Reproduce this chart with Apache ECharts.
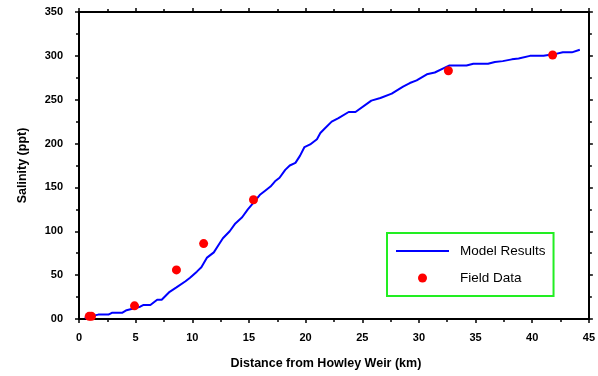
<!DOCTYPE html>
<html>
<head>
<meta charset="utf-8">
<script src="https://cdn.jsdelivr.net/npm/echarts@6/dist/echarts.min.js"></script>
<style>
html,body{margin:0;padding:0;background:#fff;}
#chart{width:598px;height:376px;}
</style>
</head>
<body>
<div id="chart"></div>
<script>
// Model results: distance (km), salinity
var modelX = [0.5,1.0,1.7,2.6,2.9,3.8,4.2,5.4,5.7,6.3,6.9,7.3,8.0,8.6,9.4,9.8,10.4,10.8,11.3,11.9,12.3,12.7,13.3,13.8,14.4,14.9,15.5,16.0,16.4,16.9,17.3,17.7,18.2,18.6,19.1,19.5,19.9,20.4,21.0,21.3,21.6,22.3,22.9,23.8,24.4,25.8,26.6,27.6,28.6,29.2,29.8,30.7,31.4,32.2,32.7,34.2,34.8,36.1,36.7,37.4,38.2,38.8,39.8,41.0,42.0,42.7,43.5,44.2];
var modelY = [1,3,5,5,7,7,10,14,16,16,22,22,31,36,43,47,54,59,70,76,84,92,100,109,116,125,134,142,146,151,157,161,170,175,178,186,196,199,205,212,216,225,229,236,236,249,252,257,265,269,272,279,281,286,289,289,291,291,293,294,296,297,300,300,302,304,304,307];
// Field data
var fieldX = [0.9,1.1,4.9,8.6,11.0,15.4,32.6,41.8];
var fieldY = [3,3,15,56,86,136,283,301];
// Tick labels
var xTickLabels = ['0','5','10','15','20','25','30','35','40','45'];
var yTickLabels = ['00','50','100','150','200','250','300','350'];

var modelData = modelX.map(function(x,i){return [x, modelY[i]];});
var fieldData = fieldX.map(function(x,i){return [x, fieldY[i]];});

var chart = echarts.init(document.getElementById('chart'));
var labelFont = {color:'#000', fontFamily:'Liberation Sans, Arial', fontWeight:'bold', fontSize:11};
var axisLine = {show:true, onZero:false, lineStyle:{color:'#000', width:2}};
var tick = {show:true, inside:false, length:4, lineStyle:{color:'#000', width:1.5}};
var minor = {show:true, splitNumber:2, length:3, lineStyle:{color:'#000', width:1.5}};
var nameFont = {color:'#000', fontFamily:'Liberation Sans, Arial', fontWeight:'bold', fontSize:12.5};

chart.setOption({
  animation:false,
  backgroundColor:'#fff',
  grid:{left:79, right:9, top:12, bottom:57, containLabel:false},
  legend:{
    orient:'vertical', left:387, top:233,
    padding:[11,8,11,8], itemGap:13, itemWidth:53, itemHeight:9,
    borderColor:'#22ee22', borderWidth:2, borderRadius:0,
    textStyle:{fontFamily:'Liberation Sans, Arial', fontSize:13.5, color:'#000', padding:[0,0,0,6]},
    data:[{name:'Model Results', itemStyle:{opacity:0}},{name:'Field Data', icon:'circle', itemStyle:{opacity:1, color:'#ff0000'}}]
  },
  xAxis:[{
    type:'value', min:0, max:45, interval:5, position:'bottom',
    name:'Distance from Howley Weir (km)', nameLocation:'middle', nameGap:38,
    nameTextStyle:Object.assign({padding:[0,16,0,0]}, nameFont),
    axisLine:axisLine, axisTick:tick, minorTick:minor, splitLine:{show:false},
    axisLabel:Object.assign({margin:13, formatter:function(v){return xTickLabels[Math.round(v/5)];}}, labelFont)
  },{
    type:'value', min:0, max:45, interval:5, position:'top',
    axisLine:axisLine, axisTick:tick, minorTick:minor, splitLine:{show:false},
    axisLabel:{show:false}
  }],
  yAxis:[{
    type:'value', min:0, max:350, interval:50, position:'left',
    name:'Salinity (ppt)', nameLocation:'middle', nameGap:50,
    nameTextStyle:nameFont,
    axisLine:axisLine, axisTick:tick, minorTick:minor, splitLine:{show:false},
    axisLabel:Object.assign({margin:16, formatter:function(v){return yTickLabels[Math.round(v/50)];}}, labelFont)
  },{
    type:'value', min:0, max:350, interval:50, position:'right',
    axisLine:axisLine, axisTick:tick, minorTick:minor, splitLine:{show:false},
    axisLabel:{show:false}
  }],
  series:[{
    name:'Model Results', type:'line', data:modelData, showSymbol:false, symbol:'none',
    lineStyle:{color:'#0000ff', width:2}, itemStyle:{color:'#0000ff'}, z:2
  },{
    name:'Field Data', type:'scatter', data:fieldData, symbol:'circle', symbolSize:9,
    itemStyle:{color:'#ff0000', opacity:1}, z:3
  }]
});
</script>
</body>
</html>
